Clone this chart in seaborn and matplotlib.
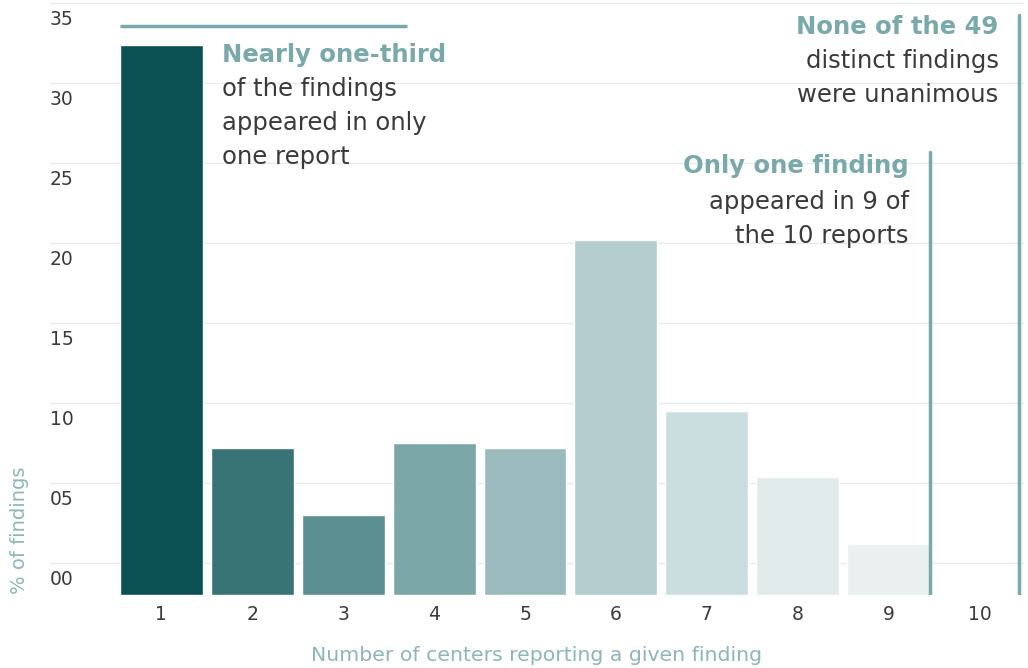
import numpy as np
import pandas as pd
import seaborn as sns
import matplotlib.pyplot as plt
from matplotlib import transforms

# data
centers = [1, 2, 3, 4, 5, 6, 7, 8, 9, 10]
pct_findings = [32.4, 7.2, 3.0, 7.5, 7.2, 20.2, 9.5, 5.4, 1.2, 0.0]
bar_colors = ['#0b5053', '#387376', '#5b8f92', '#7ca7a8', '#9bbabd',
              '#b4cdcf', '#cbdedf', '#e0eaeb', '#eaf0f0', '#f3f7f7']
y_ticks = [0, 5, 10, 15, 20, 25, 30, 35]

teal = '#7aa9ab'
dark = '#3a3a3a'
light_teal = '#8db6b8'

sns.set_style('white')
plt.rcParams['font.family'] = ['DejaVu Sans']

base = -2.0  # bars hang below the zero gridline in the original
df = pd.DataFrame({'centers': [str(c) for c in centers], 'pct': pct_findings})
df['height'] = np.where(df['pct'] > 0, df['pct'] - base, 0)

fig = plt.figure(figsize=(10.28, 6.68), dpi=100)
ax = fig.add_axes([50 / 1028, 73 / 668, 974 / 1028, 595 / 668])

sns.barplot(data=df, x='centers', y='height', hue='centers', palette=bar_colors,
            legend=False, width=0.913, bottom=base, saturation=1, ax=ax, zorder=2)

ax.set_xlim(-1.226, 9.49)
ax.set_ylim(base, 35.19)
for s in ax.spines.values():
    s.set_visible(False)

# gridlines + labels sitting under each gridline
ax.set_yticks(y_ticks)
ax.set_yticklabels([])
ax.tick_params(axis='y', length=0)
ax.grid(axis='y', color='#e6ecec', lw=1, zorder=0)
off = transforms.ScaledTranslation(0, -0.065, fig.dpi_scale_trans)
blend = transforms.blended_transform_factory(ax.transAxes, ax.transData)
for v in y_ticks:
    ax.text(0.0, v, f'{v:02d}', transform=blend + off, ha='left', va='top',
            fontsize=13.5, color=dark)

ax.tick_params(axis='x', length=0, labelsize=13.5, labelcolor=dark, pad=7)
ax.set_xlabel('Number of centers reporting a given finding', fontsize=14.7,
              color=light_teal, labelpad=16)
ax.set_ylabel('')
fig.text(20 / 1028, 1 - 530 / 668, '% of findings', rotation=90, ha='center',
         va='center', fontsize=14, color=light_teal)

# annotations
ax.plot([-0.456, 2.7], [33.56, 33.56], color=teal, lw=2.5, solid_capstyle='butt')
ax.plot([8.456, 8.456], [base, 25.7], color=teal, lw=2.5)
ax.plot([9.44, 9.44], [base, 34.25], color=teal, lw=2.5)

fs = 17.5
ls = 1.52
ax.text(0.665, 31.75, 'Nearly one-third', fontsize=fs, fontweight='bold',
        color=teal, ha='left', va='center')
ax.text(0.665, 30.35, 'of the findings\nappeared in only\none report', fontsize=fs,
        color=dark, ha='left', va='top', linespacing=ls)

ax.text(9.21, 33.5, 'None of the 49', fontsize=fs, fontweight='bold',
        color=teal, ha='right', va='center')
ax.text(9.21, 32.1, 'distinct findings\nwere unanimous', fontsize=fs,
        color=dark, ha='right', va='top', linespacing=ls)

ax.text(8.22, 24.8, 'Only one finding', fontsize=fs, fontweight='bold',
        color=teal, ha='right', va='center')
ax.text(8.22, 23.3, 'appeared in 9 of\nthe 10 reports', fontsize=fs,
        color=dark, ha='right', va='top', linespacing=ls)

fig.savefig('out.png', dpi=100)
